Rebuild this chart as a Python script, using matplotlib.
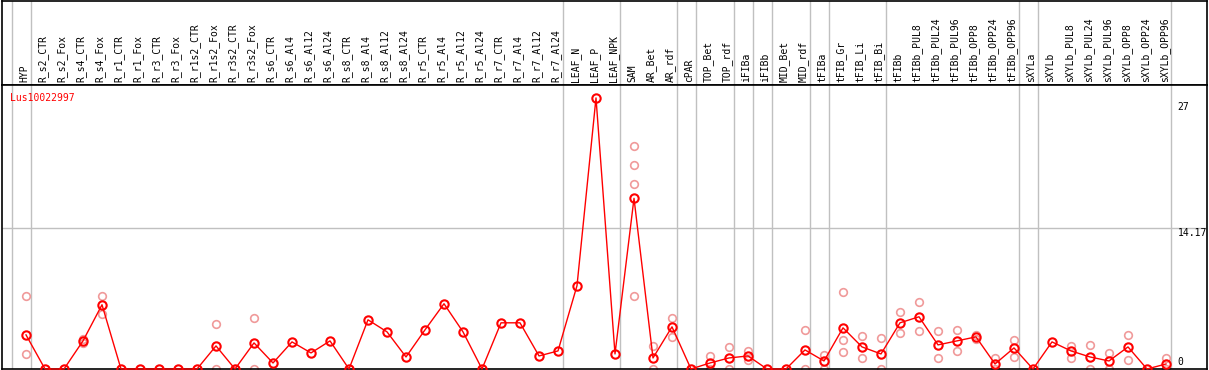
import matplotlib
matplotlib.use("Agg")
import matplotlib.pyplot as plt
from matplotlib.transforms import offset_copy

gene = "Lus10022997"

samples = [
    "HYP", "R_s2_CTR", "R_s2_Fox", "R_s4_CTR", "R_s4_Fox", "R_r1_CTR", "R_r1_Fox",
    "R_r3_CTR", "R_r3_Fox", "R_r1s2_CTR", "R_r1s2_Fox", "R_r3s2_CTR", "R_r3s2_Fox",
    "R_s6_CTR", "R_s6_Al4", "R_s6_Al12", "R_s6_Al24", "R_s8_CTR", "R_s8_Al4",
    "R_s8_Al12", "R_s8_Al24", "R_r5_CTR", "R_r5_Al4", "R_r5_Al12", "R_r5_Al24",
    "R_r7_CTR", "R_r7_Al4", "R_r7_Al12", "R_r7_Al24", "LEAF_N", "LEAF_P", "LEAF_NPK",
    "SAM", "AR_Bet", "AR_rdf", "cPAR", "TOP_Bet", "TOP_rdf", "iFIBa", "iFIBb",
    "MID_Bet", "MID_rdf", "tFIBa", "tFIB_Gr", "tFIB_Li", "tFIB_Bi", "tFIBb",
    "tFIBb_PUL8", "tFIBb_PUL24", "tFIBb_PUL96", "tFIBb_OPP8", "tFIBb_OPP24",
    "tFIBb_OPP96", "sXYLa", "sXYLb", "sXYLb_PUL8", "sXYLb_PUL24", "sXYLb_PUL96",
    "sXYLb_OPP8", "sXYLb_OPP24", "sXYLb_OPP96",
]

# mean expression per sample
means = [
    3.4, 0, 0, 2.8, 6.4, 0, 0, 0, 0, 0, 2.3, 0, 2.6,          # HYP .. R_r3s2_Fox
    0.6, 2.7, 1.6, 2.8, 0, 4.9, 3.7, 1.2, 3.9, 6.5, 3.7, 0,   # R_s6_CTR .. R_r5_Al24
    4.6, 4.6, 1.3, 1.8,                                       # R_r7_*
    8.3, 27.0, 1.5,                                           # LEAF
    17.0, 1.1, 4.2, 0, 0.6, 1.1, 1.3, 0, 0, 1.9,              # SAM .. MID_rdf
    0.8, 4.1, 2.2, 1.5,                                       # tFIBa .. tFIB_Bi
    4.6, 5.2, 2.4, 2.8, 3.2, 0.5, 2.1,                        # tFIBb*
    0, 2.7, 1.8, 1.2, 0.8, 2.2, 0, 0.5,                       # sXYL*
]

# individual replicates (only the ones that differ from the mean)
replicates = {
    "HYP": [7.3, 1.5], "R_s4_CTR": [3.0, 2.6], "R_s4_Fox": [7.3, 5.5],
    "R_r1s2_Fox": [4.5, 0], "R_r3s2_CTR": [0], "R_r3s2_Fox": [5.1, 0],
    "SAM": [22.2, 20.3, 18.4, 7.3], "AR_Bet": [2.3, 0], "AR_rdf": [5.1, 3.2],
    "TOP_Bet": [1.3, 0], "TOP_rdf": [2.2, 0], "iFIBa": [1.8, 0.9],
    "MID_rdf": [3.9, 0], "tFIBa": [1.4, 0], "tFIB_Gr": [7.7, 2.9, 1.7],
    "tFIB_Li": [3.3, 1.1], "tFIB_Bi": [3.1, 0], "tFIBb": [5.7, 3.6],
    "tFIBb_PUL8": [6.7, 3.8], "tFIBb_PUL24": [3.8, 1.1], "tFIBb_PUL96": [3.9, 1.8],
    "tFIBb_OPP8": [3.4, 3.0], "tFIBb_OPP24": [1.1, 0], "tFIBb_OPP96": [2.9, 1.2],
    "sXYLb_PUL8": [2.3, 1.1], "sXYLb_PUL24": [2.4, 0], "sXYLb_PUL96": [1.6, 0],
    "sXYLb_OPP8": [3.4, 0.9], "sXYLb_OPP96": [1.1, 0],
}

# first sample of each tissue group (gray separators)
group_starts = ["HYP", "R_s2_CTR", "LEAF_N", "SAM", "cPAR", "TOP_Bet", "iFIBa",
                "iFIBb", "MID_Bet", "tFIBa", "tFIB_Gr", "tFIBb", "sXYLa", "sXYLb"]

ymax = 27
mid_tick = 14.17

W, H = 1209, 370
fig = plt.figure(figsize=(W / 100, H / 100), dpi=100)
font = {"family": "DejaVu Sans Mono", "size": 7}

x = list(range(len(samples)))
xlim = (-24 / 19, (1207 - 26) / 19)

# header with sample names
hdr = fig.add_axes([2 / W, (H - 85) / H, 1205 / W, 84 / H])
hdr.set_xlim(*xlim)
hdr.set_ylim(0, 1)
hdr.set_xticks([])
hdr.set_yticks([])
for s in hdr.spines.values():
    s.set_color("black")
    s.set_linewidth(1.2)
for i, name in enumerate(samples):
    hdr.text(i - 0.1, 0.03, name, rotation=90, ha="center", va="bottom", **font)

# plot area
ax = fig.add_axes([2 / W, 1 / H, 1205 / W, 284 / H])
ax.set_xlim(*xlim)
ax.set_ylim(0, 284 / 10.04)
ax.set_xticks([])
ax.set_yticks([])
for s in ax.spines.values():
    s.set_color("black")
    s.set_linewidth(1.2)

seps = [samples.index(g) - 0.75 for g in group_starts] + [len(samples) - 0.75]
for a in (hdr, ax):
    for sx in seps:
        a.axvline(sx, color="#c0c0c0", lw=1, zorder=0)
ax.axhline(mid_tick - 0.13, color="#c0c0c0", lw=1, zorder=0)

for name, vals in replicates.items():
    i = samples.index(name)
    ax.plot([i] * len(vals), vals, "o", ms=5.5, mfc="none", mec="#f09a9a",
            mew=1.2, clip_on=False, zorder=2)

ax.plot(x, means, "-", color="red", lw=1, zorder=3, clip_on=False)
ax.plot(x, means, "o", ms=6, mfc="none", mec="red", mew=1.5, zorder=4,
        clip_on=False)

ax.text(0.007, 0.955, gene, color="red", transform=ax.transAxes,
        ha="left", va="center", **font)

lx = len(samples) - 0.4
for val, dy in [(ymax, -9), (mid_tick, -6), (0, 7)]:
    tr = offset_copy(ax.transData, fig=fig, x=0, y=dy, units="dots")
    lab = str(val) if val != 0 else "0"
    ax.text(lx, val, lab, transform=tr, ha="left", va="center", **font)

fig.savefig("out.png", dpi=100)
